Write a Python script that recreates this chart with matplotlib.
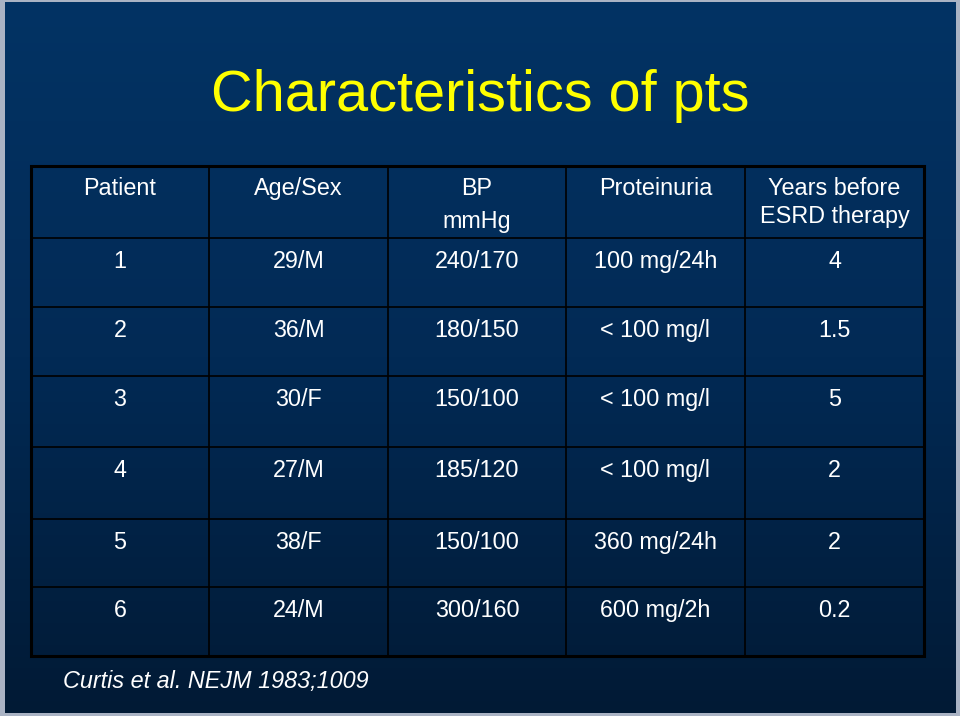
import matplotlib.pyplot as plt
import numpy as np
from matplotlib.colors import LinearSegmentedColormap

plt.rcParams['font.family'] = ['Liberation Sans', 'DejaVu Sans']

title = "Characteristics of pts"
headers = ["Patient", "Age/Sex", "BP", "Proteinuria", "Years before"]
headers2 = ["", "", "mmHg", "", "ESRD therapy"]
patient = ["1", "2", "3", "4", "5", "6"]
age_sex = ["29/M", "36/M", "30/F", "27/M", "38/F", "24/M"]
bp = ["240/170", "180/150", "150/100", "185/120", "150/100", "300/160"]
proteinuria = ["100 mg/24h", "< 100 mg/l", "< 100 mg/l", "< 100 mg/l",
               "360 mg/24h", "600 mg/2h"]
years = ["4", "1.5", "5", "2", "2", "0.2"]
citation = "Curtis et al. NEJM 1983;1009"

# layout (pixels)
col_edges = [31, 209, 388, 566, 745, 924]
row_edges = [166, 238, 307, 376, 447, 519, 587, 656]
header2_base = [0, 0, 228, 0, 223]

fig = plt.figure(figsize=(9.6, 7.16), dpi=100, facecolor='#aab3c4')
ax = fig.add_axes([0, 0, 1, 1])
ax.set_xlim(0, 960)
ax.set_ylim(716, 0)
ax.axis('off')

# slide background gradient
cmap = LinearSegmentedColormap.from_list('bg', ['#033364', '#022a55', '#011a35'])
grad = np.linspace(0, 1, 256).reshape(-1, 1)
ax.imshow(grad, cmap=cmap, aspect='auto', extent=[5, 956, 713, 2], zorder=0)

ax.text(480, 111, title, color='#ffff00', fontsize=41.5, ha='center', va='baseline')

# table grid
for x in col_edges[1:-1]:
    ax.vlines(x, row_edges[0], row_edges[-1], color='black', lw=1.2, zorder=2)
for y in row_edges[1:-1]:
    ax.hlines(y, col_edges[0], col_edges[-1], color='black', lw=1.2, zorder=2)
ax.add_patch(plt.Rectangle((col_edges[0], row_edges[0]), col_edges[-1] - col_edges[0],
                           row_edges[-1] - row_edges[0], fill=False, ec='black',
                           lw=2.2, zorder=3))

centers = [(col_edges[i] + col_edges[i + 1]) / 2 for i in range(5)]
fs = 16.8
for i, h in enumerate(headers):
    ax.text(centers[i], row_edges[0] + 29, h, color='white', fontsize=fs,
            ha='center', va='baseline')
    if headers2[i]:
        ax.text(centers[i], header2_base[i], headers2[i], color='white', fontsize=fs,
                ha='center', va='baseline')

columns = [patient, age_sex, bp, proteinuria, years]
for r in range(len(patient)):
    top = row_edges[r + 1]
    for c, col in enumerate(columns):
        ax.text(centers[c], top + 30, col[r], color='white', fontsize=fs,
                ha='center', va='baseline')

ax.text(63, 688, citation, color='white', fontsize=fs, style='italic',
        ha='left', va='baseline')

fig.savefig('out.png', dpi=100, facecolor=fig.get_facecolor())
